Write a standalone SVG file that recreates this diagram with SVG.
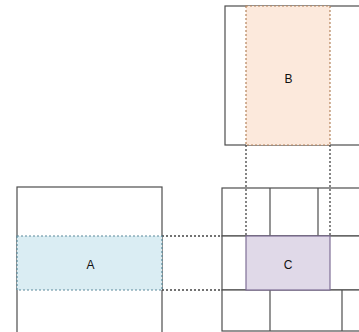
<svg xmlns="http://www.w3.org/2000/svg" width="359" height="332" viewBox="0 0 359 332">
<style>
.box{fill:#fff;stroke:#4d4d4d;stroke-width:1.2}
.ln{fill:none;stroke:#4d4d4d;stroke-width:1.2}
.dot{fill:none;stroke:#444;stroke-width:1.3;stroke-dasharray:2 2}
.lbl{font-family:"Liberation Sans",Arial,sans-serif;font-size:12px;fill:#111;text-anchor:middle;dominant-baseline:central}
</style>
<rect width="359" height="332" fill="#fff"/>
<g id="top-box">
<rect class="box" x="225" y="6" width="150" height="139"/>
</g>
<g id="left-box">
<rect class="box" x="17" y="187" width="145" height="160"/>
</g>
<g id="grid">
<rect class="box" x="222" y="188" width="150" height="48"/>
<rect class="box" x="222" y="236" width="150" height="54"/>
<rect class="box" x="222" y="290" width="150" height="41"/>
<line class="ln" x1="270" y1="188" x2="270" y2="236"/>
<line class="ln" x1="318" y1="188" x2="318" y2="236"/>
<line class="ln" x1="270" y1="290" x2="270" y2="331"/>
<line class="ln" x1="342" y1="290" x2="342" y2="331"/>
</g>
<g id="connectors">
<line class="dot" x1="162" y1="236" x2="222" y2="236"/>
<line class="dot" x1="162" y1="290" x2="222" y2="290"/>
<line class="dot" x1="246" y1="145" x2="246" y2="236"/>
<line class="dot" x1="330" y1="145" x2="330" y2="236"/>
</g>
<g id="node-A">
<rect x="17" y="236" width="145" height="54" fill="#daedf3" stroke="#5b8a9c" stroke-width="1.2" stroke-dasharray="2 2"/>
<text class="lbl" x="90.5" y="265">A</text>
</g>
<g id="node-B">
<rect x="246" y="6" width="84" height="139" fill="#fce9dc" stroke="#b5845c" stroke-width="1.2" stroke-dasharray="2 2"/>
<text class="lbl" x="288.5" y="79">B</text>
</g>
<g id="node-C">
<rect x="246" y="236" width="84" height="54" fill="#e0d9e8" stroke="#7f6f96" stroke-width="1.2"/>
<text class="lbl" x="288" y="265">C</text>
</g>
</svg>
